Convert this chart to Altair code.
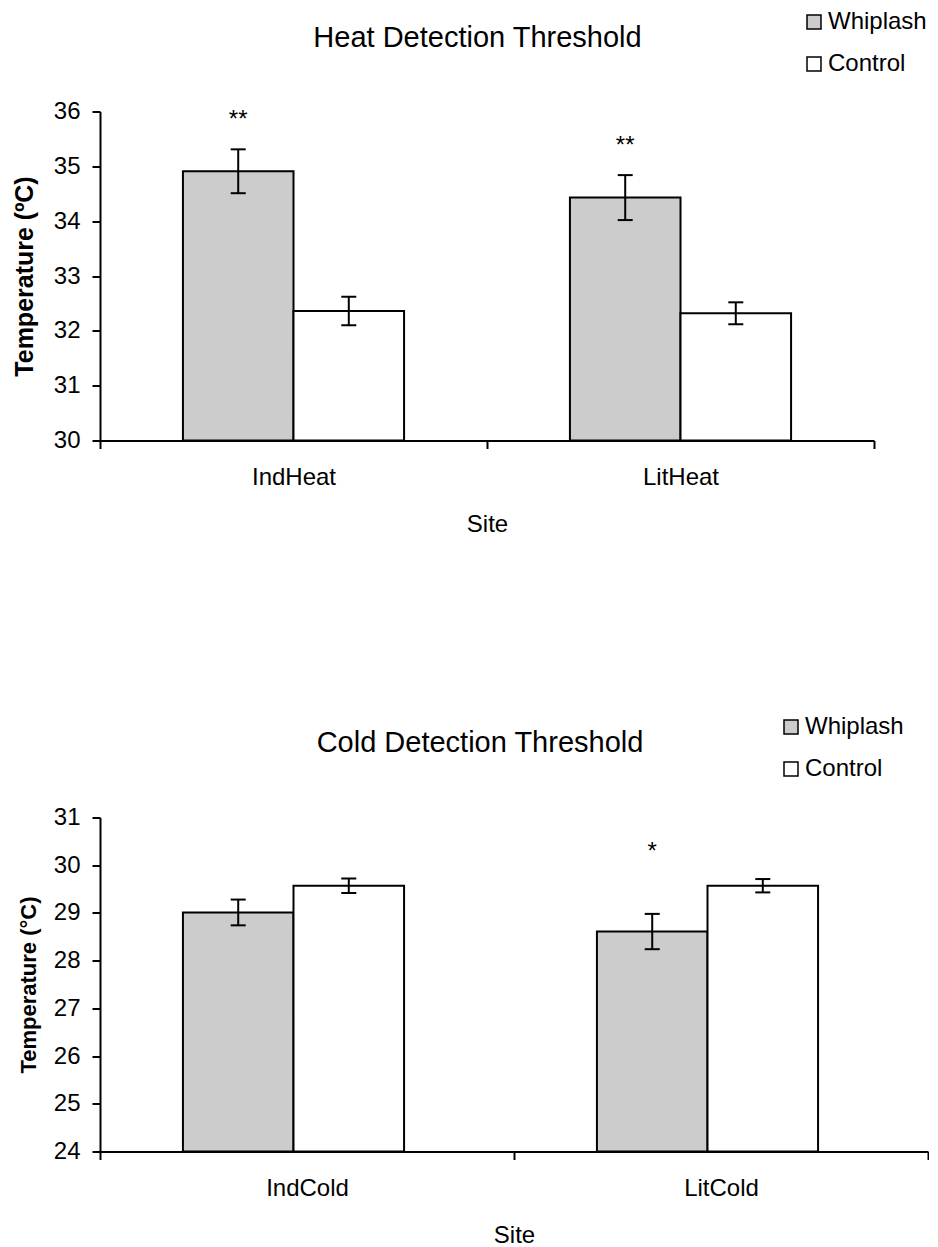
import altair as alt
import pandas as pd

FONT = "Liberation Sans"

groups = ["Whiplash", "Control"]
group_colors = ["#CCCCCC", "#FFFFFF"]

heat_sites = ["IndHeat", "LitHeat"]
heat_whiplash = [34.91, 34.43]
heat_whiplash_err = [0.40, 0.41]
heat_control = [32.36, 32.32]
heat_control_err = [0.26, 0.20]
heat_sig = ["**", "**"]

cold_sites = ["IndCold", "LitCold"]
cold_whiplash = [29.01, 28.61]
cold_whiplash_err = [0.27, 0.37]
cold_control = [29.57, 29.57]
cold_control_err = [0.15, 0.14]
cold_sig = ["", "*"]


def make_df(sites, w, we, c, ce, sig):
    rows = []
    for i, s in enumerate(sites):
        rows.append(dict(Site=s, Group="Whiplash", mean=w[i], lo=w[i] - we[i], hi=w[i] + we[i], sig=sig[i]))
        rows.append(dict(Site=s, Group="Control", mean=c[i], lo=c[i] - ce[i], hi=c[i] + ce[i], sig=""))
    return pd.DataFrame(rows)


def panel(df, sites, title, ymin, ymax, width, height, ytitle, ytitle_size, ytitle_x,
          title_dx, title_offset, legend_x, legend_y, star_dy):
    x = alt.X("Site:N", sort=sites,
              scale=alt.Scale(paddingInner=0, paddingOuter=0),
              axis=alt.Axis(title="Site", labelAngle=0, tickBand="extent",
                            labelFont=FONT, labelFontSize=24, labelColor="black",
                            labelPadding=17, tickSize=8, tickWidth=2, tickColor="black",
                            domainColor="black", domainWidth=2,
                            titleFont=FONT, titleFontSize=24, titleFontWeight="normal",
                            titleColor="black", titlePadding=23))
    xo = alt.XOffset("Group:N", sort=groups,
                     scale=alt.Scale(paddingInner=0, paddingOuter=0.75))
    yscale = alt.Scale(domain=[ymin, ymax], nice=False, zero=False)
    yaxis = alt.Axis(values=list(range(ymin, ymax + 1)), format="d", title=ytitle,
                     titleFont=FONT, titleFontSize=ytitle_size, titleFontWeight="bold",
                     titleColor="black", titleX=ytitle_x, titleBaseline="middle",
                     labelFont=FONT, labelFontSize=24, labelColor="black",
                     labelPadding=12, tickSize=8, tickWidth=2, tickColor="black",
                     domainColor="black", domainWidth=2, grid=False)

    base = alt.Chart(df).transform_calculate(base=str(ymin))

    bars = base.mark_bar(stroke="black", strokeWidth=2).encode(
        x=x, xOffset=xo,
        y=alt.Y("mean:Q", scale=yscale, axis=yaxis, title=ytitle),
        y2="base:Q",
        color=alt.Color("Group:N", sort=groups,
                        scale=alt.Scale(domain=groups, range=group_colors),
                        legend=alt.Legend(title=None, orient="none", legendX=legend_x,
                                          legendY=legend_y, symbolType="square",
                                          symbolSize=196, symbolStrokeColor="black",
                                          symbolStrokeWidth=1.5, symbolOpacity=1,
                                          labelFont=FONT, labelFontSize=24,
                                          labelColor="black", labelOffset=2,
                                          rowPadding=18, padding=0)),
    )
    rule = base.mark_rule(color="black", strokeWidth=2).encode(
        x=x, xOffset=xo, y=alt.Y("lo:Q", title=ytitle), y2="hi:Q")
    cap_hi = base.mark_tick(color="black", thickness=2, size=15, opacity=1).encode(
        x=x, xOffset=xo, y=alt.Y("hi:Q", title=ytitle))
    cap_lo = base.mark_tick(color="black", thickness=2, size=15, opacity=1).encode(
        x=x, xOffset=xo, y=alt.Y("lo:Q", title=ytitle))
    stars = base.mark_text(font=FONT, fontSize=24, baseline="middle", dy=star_dy,
                           color="black").encode(
        x=x, xOffset=xo, y=alt.Y("hi:Q", title=ytitle), text="sig:N")

    return alt.layer(bars, rule, cap_hi, cap_lo, stars).properties(
        width=width, height=height,
        title=alt.TitleParams(title, font=FONT, fontSize=29, fontWeight="normal",
                              color="black", anchor="middle", dx=title_dx,
                              baseline="alphabetic", offset=title_offset, frame="group"),
    )


heat_df = make_df(heat_sites, heat_whiplash, heat_whiplash_err, heat_control,
                  heat_control_err, heat_sig)
cold_df = make_df(cold_sites, cold_whiplash, cold_whiplash_err, cold_control,
                  cold_control_err, cold_sig)

top = panel(heat_df, heat_sites, "Heat Detection Threshold", 30, 36, 774, 329,
            "Temperature (ºC)", 25, -76, -9.5, -66, 702, -101.5, -29)
bottom = panel(cold_df, cold_sites, "Cold Detection Threshold", 24, 31, 828, 334,
               "Temperature (°C)", 22, -72, -34, -65.5, 679, -102.5, -62)

chart = alt.vconcat(top, bottom, spacing=377, bounds="flush").properties(
    padding={"left": 4, "top": 1.5, "right": 0, "bottom": 0}
).configure_view(stroke=None).resolve_scale(color="independent")

chart.save("out.html", embed_options={"renderer": "svg", "actions": False})
